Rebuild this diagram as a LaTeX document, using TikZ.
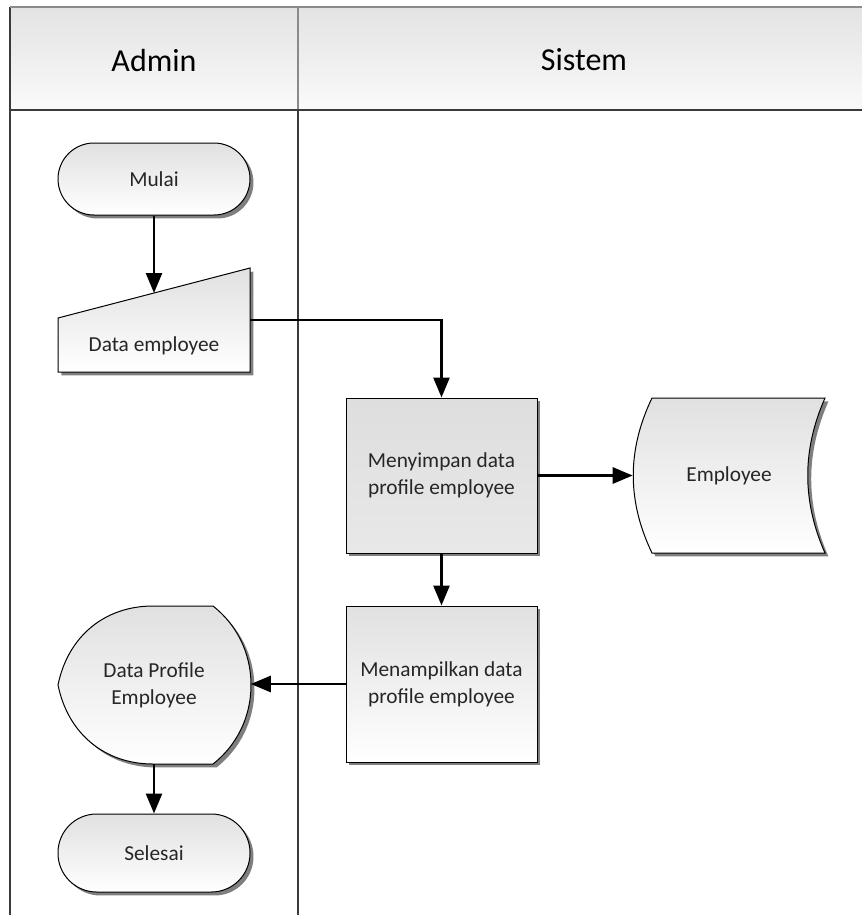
\documentclass[tikz,border=0pt]{standalone}
\usepackage{fontspec}
\setmainfont{Carlito}
\usetikzlibrary{arrows.meta,shadows,calc}
\definecolor{frameC}{HTML}{3A3A3A}
\definecolor{headC}{HTML}{8A8A8A}
\definecolor{txtC}{HTML}{262626}
\definecolor{shadowC}{HTML}{7F7F7F}
\begin{document}
\begin{tikzpicture}[x=0.75pt,y=-0.75pt,
  conn/.style={line width=2pt, draw=black, -{Triangle[length=15pt,width=12pt]}},
  shapeline/.style={draw=black, line width=0.75pt},
  shadelight/.style={top color=black!12, bottom color=white},
  shadedark/.style={top color=black!13, bottom color=black!9},
  boxshadow/.style={general shadow={fill=shadowC, shadow xshift=2.6pt, shadow yshift=-2.6pt}},
  lbl/.style={font=\fontsize{16}{20.5}\selectfont, text=txtC, align=center},
  hdr/.style={font=\fontsize{24}{28}\selectfont, text=black},
  term/.style={shapeline, shadelight, boxshadow, rectangle, minimum width=144pt, lbl},
  proc/.style={shapeline, boxshadow, rectangle, minimum width=143.25pt, lbl},
  hold/.style={rectangle, inner sep=0pt, draw=none},
]
\useasboundingbox (0,0) rectangle (862,915);

% swimlane header and frame
\fill[top color=black!11, bottom color=black!2] (10,7) rectangle (870,110);
\draw[headC, line width=1.5pt] (298,7) -- (298,110);
\draw[frameC, line width=1.5pt] (298,110) -- (298,915);
\draw[frameC, line width=1.5pt] (10,915) -- (10,7);
\draw[headC, line width=1.5pt] (10,7) -- (870,7);
\draw[frameC, line width=1.5pt] (10,110) -- (870,110);
\node[hdr] (hadmin) at (154,60) {Admin};
\node[hdr] (hsistem) at (584,60) {Sistem};

% start terminator
\node[term, rounded corners=27pt, minimum height=54pt] (mulai) at (154,179) {Mulai};

% manual input: data employee
\path[shapeline, shadelight, boxshadow] (58,318) -- (250,268) -- (250,372) -- (58,372) -- cycle;
\node[hold, minimum width=144pt, minimum height=78pt] (inp) at (154,320) {};
\node[lbl] (inptext) at (154,346) {Data employee};
\coordinate (inptop) at (154,293);

% process: store profile
\node[proc, shadedark, minimum height=116.25pt] (simpan) at (441.5,475.5) {Menyimpan data\\profile employee};

% stored data: employee
\path[shapeline, shadelight, boxshadow] (652,398) -- (825,398)
  .. controls (802,450) and (802,501) .. (825,553) -- (652,553)
  .. controls (627,501) and (627,450) .. cycle;
\node[hold, lbl, minimum width=144pt, minimum height=116.25pt] (store) at (729,475.5) {Employee};

% process: show profile
\node[proc, shadelight, minimum height=117pt] (tampil) at (441.5,684) {Menampilkan data\\profile employee};

% display: data profile employee
\path[shapeline, shadelight, boxshadow] (58,685)
  .. controls (68,636) and (105,606) .. (153,606) -- (213,606)
  .. controls (236,624) and (251,652) .. (251,685)
  .. controls (251,718) and (236,746) .. (213,764) -- (153,764)
  .. controls (105,764) and (68,734) .. cycle;
\node[hold, lbl, minimum width=144.75pt, minimum height=118.5pt] (profil) at (154,685) {Data Profile\\Employee};

% end terminator
\node[term, rounded corners=29pt, minimum height=58.5pt] (selesai) at (154,853) {Selesai};

% connectors
\draw[conn] (mulai.south) -- (inptop);
\draw[conn] (inp.east) -| (simpan.north);
\draw[conn] (simpan.east) -- (store.west);
\draw[conn] (simpan.south) -- (tampil.north);
\draw[conn] (tampil.west) -- (tampil.west -| profil.east);
\draw[conn] (profil.south) -- (selesai.north);
\end{tikzpicture}
\end{document}
